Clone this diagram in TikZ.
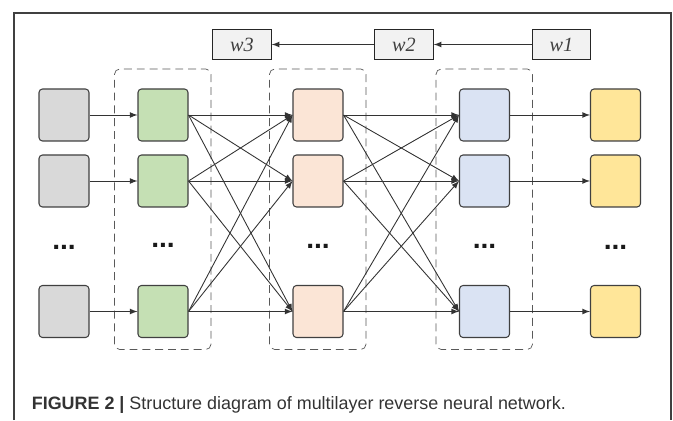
\documentclass[tikz,border=0pt]{standalone}
\usepackage{fontspec}
\setmainfont{Liberation Serif}
\newfontfamily\capfont{Liberation Sans}
\usepackage{color}
\usepackage{tikz}

\definecolor{cellgray}{HTML}{D9D9D9}
\definecolor{cellgreen}{HTML}{C5E0B4}
\definecolor{cellpeach}{HTML}{FBE5D6}
\definecolor{cellblue}{HTML}{DAE3F3}
\definecolor{cellyellow}{HTML}{FFE699}
\definecolor{wgray}{HTML}{F2F2F2}
\definecolor{edgegray}{HTML}{404040}

\tikzset{
  cell/.style={draw=edgegray,line width=0.6pt,rectangle,rounded corners=2pt,minimum width=1cm,minimum height=1.04cm,inner sep=0pt},
  wbox/.style={draw=black!85,line width=0.6pt,rectangle,fill=wgray,minimum width=1.17cm,minimum height=0.6cm,inner sep=0pt,font=\itshape\fontsize{11.5}{12}\selectfont,text=edgegray},
  layer/.style={draw=black!65,dash pattern=on 4.5pt off 2.8pt,rounded corners=3pt},
  dots/.style={font=\capfont\bfseries\fontsize{16}{16}\selectfont,text=black!90},
  link/.style={draw=black!80,-latex,line width=0.5pt}
}

\begin{document}
\begin{tikzpicture}
\useasboundingbox (0,0) rectangle (13.46,8.4);
\draw [black!75,line width=0.6pt] (0.28,0) -- (0.28,8.14) -- (13.42,8.14) -- (13.42,0);

%\draw [thick,blue,dashed] (0,0) rectangle (13.46,8.4);
\draw [layer] (2.29,1.41) rectangle (4.22,7.02);
\draw [layer] (5.39,1.41) rectangle (7.32,7.02);
\draw [layer] (8.72,1.41) rectangle (10.65,7.02);

\node [wbox] (w3) at(4.84,7.51){w3};
\node [wbox] (w2) at(8.08,7.51){w2};
\node [wbox] (w1) at(11.23,7.51){w1};

% input
\node [cell,fill=cellgray] (in1) at(1.28,6.1){};
\node [cell,fill=cellgray] (in2) at(1.28,4.78){};
\node [dots] (ind) at(1.28,3.45){...};
\node [cell,fill=cellgray] (in3) at(1.28,2.17){};
% layer 1
\node [cell,fill=cellgreen] (ha1) at(3.26,6.1){};
\node [cell,fill=cellgreen] (ha2) at(3.26,4.78){};
\node [dots] (had) at(3.26,3.5){...};
\node [cell,fill=cellgreen] (ha3) at(3.26,2.17){};
% layer 2
\node [cell,fill=cellpeach] (hb1) at(6.36,6.1){};
\node [cell,fill=cellpeach] (hb2) at(6.36,4.78){};
\node [dots] (hbd) at(6.36,3.47){...};
\node [cell,fill=cellpeach] (hb3) at(6.36,2.17){};
% layer 3
\node [cell,fill=cellblue] (hc1) at(9.69,6.1){};
\node [cell,fill=cellblue] (hc2) at(9.69,4.78){};
\node [dots] (hcd) at(9.69,3.48){...};
\node [cell,fill=cellblue] (hc3) at(9.69,2.17){};
% output
\node [cell,fill=cellyellow] (out1) at(12.31,6.1){};
\node [cell,fill=cellyellow] (out2) at(12.31,4.78){};
\node [dots] (outd) at(12.31,3.45){...};
\node [cell,fill=cellyellow] (out3) at(12.31,2.17){};

\draw[link](w1) -- (w2);
\draw[link](w2) -- (w3);

\draw[link](in1) -- (ha1);
\draw[link](in2) -- (ha2);
\draw[link](in3) -- (ha3);

\draw[link](ha1.east) -- (hb1.west);
\draw[link](ha1.east) -- (hb2.west);
\draw[link](ha1.east) -- (hb3.west);
\draw[link](ha2.east) -- (hb1.west);
\draw[link](ha2.east) -- (hb2.west);
\draw[link](ha2.east) -- (hb3.west);
\draw[link](ha3.east) -- (hb1.west);
\draw[link](ha3.east) -- (hb2.west);
\draw[link](ha3.east) -- (hb3.west);

\draw[link](hb1.east) -- (hc1.west);
\draw[link](hb1.east) -- (hc2.west);
\draw[link](hb1.east) -- (hc3.west);
\draw[link](hb2.east) -- (hc1.west);
\draw[link](hb2.east) -- (hc2.west);
\draw[link](hb2.east) -- (hc3.west);
\draw[link](hb3.east) -- (hc1.west);
\draw[link](hb3.east) -- (hc2.west);
\draw[link](hb3.east) -- (hc3.west);

\draw[link](hc1) -- (out1);
\draw[link](hc2) -- (out2);
\draw[link](hc3) -- (out3);

\node [anchor=base west,font=\capfont\fontsize{10.2}{12}\selectfont,text=black!80,inner sep=0pt] (cap) at(0.63,0.22){\textbf{FIGURE 2 |} Structure diagram of multilayer reverse neural network.};
\end{tikzpicture}
\end{document}
